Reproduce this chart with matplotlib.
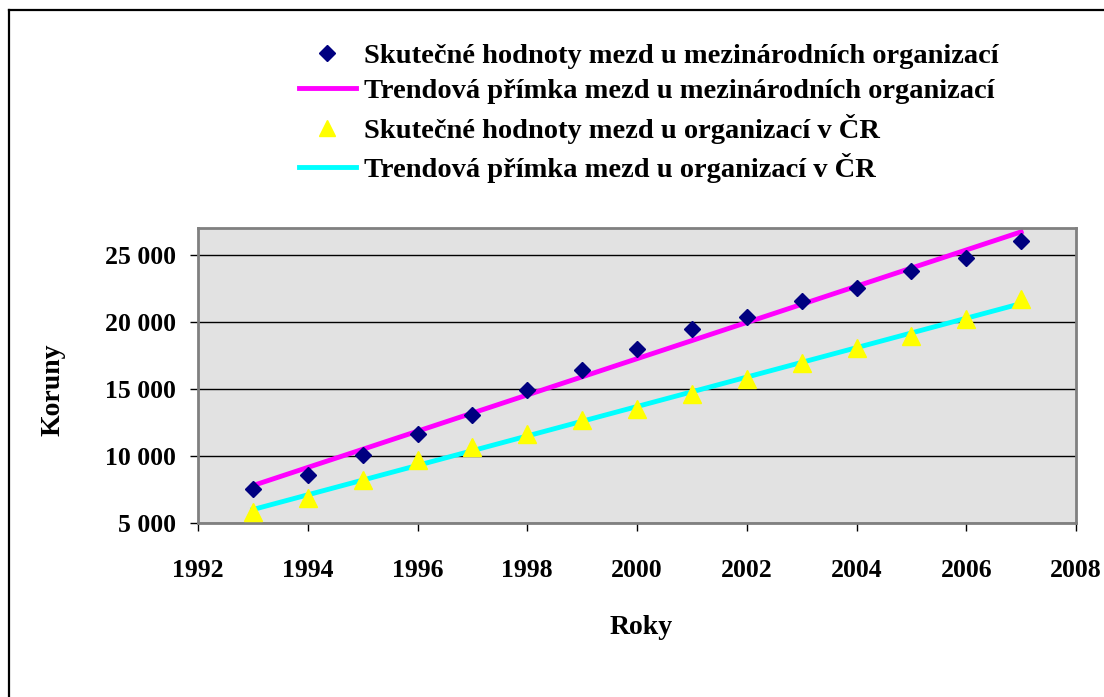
import numpy as np
import matplotlib
matplotlib.use("Agg")
import matplotlib.pyplot as plt
from matplotlib.lines import Line2D

years = [1993, 1994, 1995, 1996, 1997, 1998, 1999, 2000, 2001, 2002, 2003, 2004, 2005, 2006, 2007]
intl_wages = [7500, 8550, 10050, 11650, 13080, 14930, 16420, 17970, 19490, 20390, 21580, 22560, 23830, 24750, 26070]
cz_wages = [5800, 6850, 8170, 9660, 10690, 11660, 12660, 13480, 14650, 15720, 16900, 18070, 18970, 20210, 21710]
y_ticks = [5000, 10000, 15000, 20000, 25000]
y_ticklabels = ["5 000", "10 000", "15 000", "20 000", "25 000"]
x_ticks = [1992, 1994, 1996, 1998, 2000, 2002, 2004, 2006, 2008]

labels = [
    "Skutečné hodnoty mezd u mezinárodních organizací",
    "Trendová přímka mezd u mezinárodních organizací",
    "Skutečné hodnoty mezd u organizací v ČR",
    "Trendová přímka mezd u organizací v ČR",
]

plt.rcParams['font.family'] = ['Liberation Serif', 'DejaVu Serif']
plt.rcParams['font.weight'] = 'bold'

fig = plt.figure(figsize=(11.04, 6.97), dpi=100)
fig.patch.set_facecolor('white')
W, H = 1104, 697
ax = fig.add_axes([198 / W, 1 - 522.7 / H, (1076 - 198) / W, (522.7 - 228.3) / H])
ax.set_facecolor('#e2e2e2')

x = np.array(years)
p1 = np.polyfit(x, intl_wages, 1)
p2 = np.polyfit(x, cz_wages, 1)

ax.yaxis.grid(True, color='black', linewidth=1.0)
ax.set_axisbelow(True)

ax.plot(x, np.polyval(p1, x), color='#ff00ff', linewidth=3.5, zorder=2)
ax.plot(x, np.polyval(p2, x), color='#00ffff', linewidth=3.5, zorder=2)
ax.plot(x, intl_wages, linestyle='none', marker='D', markersize=8.5, color='#000080', zorder=3)
ax.plot(x, cz_wages, linestyle='none', marker='^', markersize=13, color='#ffff00', zorder=3)

ax.set_xlim(1992, 2008)
ax.set_ylim(5000, 27000)
ax.set_xticks(x_ticks)
ax.set_xticklabels([str(t) for t in x_ticks])
ax.set_yticks(y_ticks)
ax.set_yticklabels(y_ticklabels)
ax.tick_params(axis='both', which='major', labelsize=18.5, length=6, width=1, color='black',
               direction='out')
ax.tick_params(axis='x', pad=20)
ax.tick_params(axis='y', pad=10)
for t in ax.get_xticklabels() + ax.get_yticklabels():
    t.set_fontweight('bold')
for s in ax.spines.values():
    s.set_color('#808080')
    s.set_linewidth(2)

fig.text(641 / W, 1 - 628 / H, "Roky", ha='center', va='center', fontsize=20, fontweight='bold')
fig.text(53 / W, 1 - 390 / H, "Koruny", ha='center', va='center', rotation=90, fontsize=20, fontweight='bold')

handles = [
    Line2D([], [], linestyle='none', marker='D', markersize=8, color='#000080'),
    Line2D([], [], color='#ff00ff', linewidth=3.5),
    Line2D([], [], linestyle='none', marker='^', markersize=11, color='#ffff00'),
    Line2D([], [], color='#00ffff', linewidth=3.5),
]
leg = fig.legend(handles, labels, loc='upper left', bbox_to_anchor=(299 / W, 1 - 43 / H),
                 frameon=False, fontsize=20.5, handlelength=2.0, handletextpad=0.28,
                 labelspacing=0.33, borderpad=0, borderaxespad=0)
for t in leg.get_texts():
    t.set_fontweight('bold')

# outer chart frame
fig.add_artist(Line2D([9 / W, 9 / W], [0, 1 - 9.5 / H], color='black', linewidth=1.6,
                      transform=fig.transFigure))
fig.add_artist(Line2D([9 / W, 1], [1 - 9.5 / H, 1 - 9.5 / H], color='black', linewidth=1.6,
                      transform=fig.transFigure))

fig.savefig("out.png", dpi=100)
